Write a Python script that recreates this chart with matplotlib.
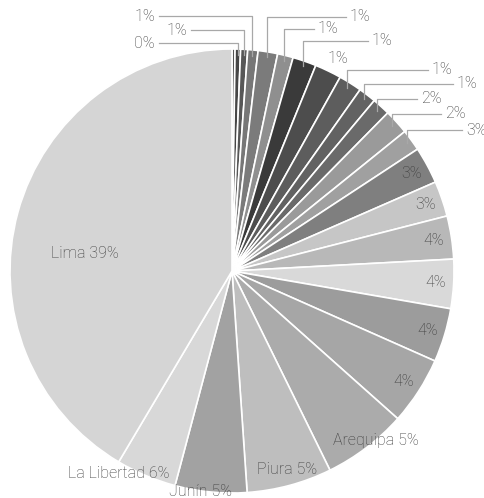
import numpy as np
import matplotlib.pyplot as plt

plt.rcParams["font.family"] = ["Roboto", "DejaVu Sans"]

# slice sizes (% of the pie), clockwise from 12 o'clock
shares = [0.22, 0.40, 0.51, 0.75, 1.42, 1.14, 1.72, 1.94, 1.69, 1.28, 1.31, 1.81,
          1.56, 2.69, 2.57, 3.13, 3.58, 3.92, 4.94, 6.14, 6.19, 5.22, 4.39, 41.47]
pct_labels = ["", "0%", "1%", "1%", "1%", "1%", "1%", "1%", "1%", "1%", "2%", "2%",
              "3%", "3%", "3%", "4%", "4%", "4%", "4%", "5%", "5%", "5%", "6%", "39%"]
names = ["", "", "", "", "", "", "", "", "", "", "", "",
         "", "", "", "", "", "", "", "Arequipa", "Piura", "Junín", "La Libertad", "Lima"]
slice_colors = ["#555555", "#464646", "#575757", "#777777", "#7b7b7b", "#8f8f8f",
                "#3a3a3a", "#4d4d4d", "#5d5d5d", "#626262", "#6a6a6a", "#9a9a9a",
                "#a0a0a0", "#7f7f7f", "#c6c6c6", "#b8b8b8", "#d9d9d9", "#9c9c9c",
                "#a6a6a6", "#ababab", "#bebebe", "#a2a2a2", "#d8d8d8", "#d5d5d5"]

TEXT = "#3c3c3c"
LEADER = "#a8a8a8"
FS = 11.5

W, H, DPI = 485, 498, 100
CX, CY, R = 232, 271, 222  # pie centre / radius in pixels

# outside labels: slice index -> (side, text x px, text y px, draw leader)
outside = {
    1: ("left", 155, 43, True),
    2: ("left", 187, 30, True),
    3: ("left", 155, 16, True),
    4: ("right", 350, 16.5, True),
    5: ("right", 318, 28.5, True),
    6: ("right", 372, 40.5, True),
    7: ("right", 328, 58, False),
    8: ("right", 432, 69.5, True),
    9: ("right", 457, 83.5, True),
    10: ("right", 421, 98.5, True),
    11: ("right", 445, 113.5, True),
    12: ("right", 466, 130, True),
}
# inside labels: slice index -> (radius, angle nudge in degrees, clockwise)
inside_nudge = {19: (1.0, -3), 20: (0.93, -0.5), 21: (1.005, 2.7),
                22: (1.046, 6.3), 23: (0.667, -8.4)}


def px_to_data(px, py):
    return (px - CX) / R, (CY - py) / R


fig = plt.figure(figsize=(W / DPI, H / DPI), dpi=DPI)
ax = fig.add_axes([(CX - R) / W, (H - CY - R) / H, 2 * R / W, 2 * R / H])
wedges, _ = ax.pie(shares, colors=slice_colors, startangle=90, counterclock=False,
                   wedgeprops=dict(edgecolor="white", linewidth=1.2))
ax.set_xlim(-1, 1)
ax.set_ylim(-1, 1)
ax.set_aspect("equal")
ax.axis("off")

for i, w in enumerate(wedges):
    if not pct_labels[i]:
        continue
    mid = np.deg2rad((w.theta1 + w.theta2) / 2)
    if i in outside:
        side, tx, ty, leader = outside[i]
        lx, ly = px_to_data(tx, ty)
        if leader:
            axx, axy = 0.975 * np.cos(mid), 0.975 * np.sin(mid)
            end = lx + 4 / R if side == "left" else lx - 4 / R
            ax.plot([axx, axx, end], [axy, ly, ly], color=LEADER, lw=0.9,
                    clip_on=False, zorder=3)
        ax.text(lx, ly, pct_labels[i], ha="right" if side == "left" else "left",
                va="center", fontsize=FS, color=TEXT, fontweight="light")
    else:
        r, nudge = inside_nudge.get(i, (0.92, 0))
        a = mid - np.deg2rad(nudge)
        text = f"{names[i]} {pct_labels[i]}".strip()
        ax.text(r * np.cos(a), r * np.sin(a), text, ha="center", va="center",
                fontsize=FS, color=TEXT, fontweight="light", zorder=4)

fig.savefig("out.png", dpi=DPI)
